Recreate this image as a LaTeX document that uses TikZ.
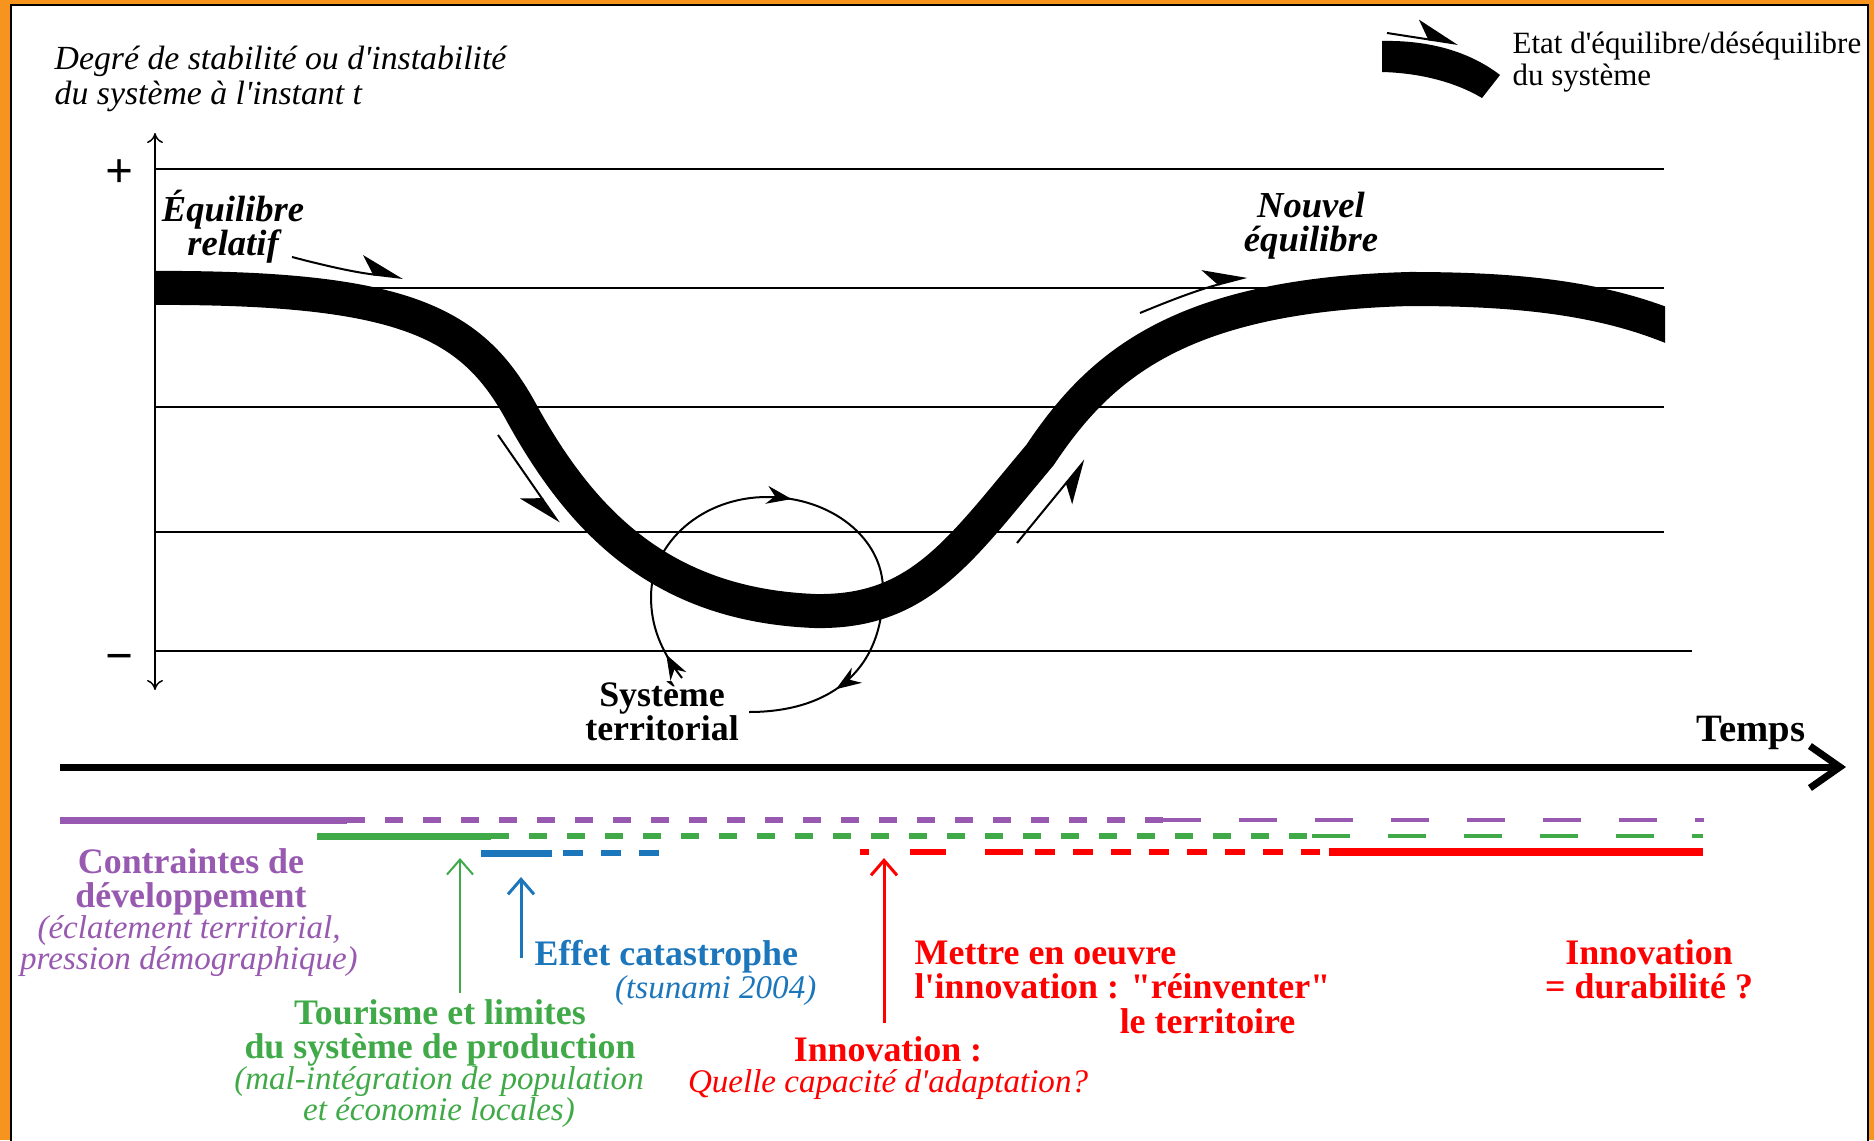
\documentclass[tikz,border=0pt]{standalone}
\usepackage{fontspec}
\setmainfont{Liberation Serif}[Ligatures=TeXOff]
\usepackage{xcolor}
\usepackage{tikz}
\usetikzlibrary{arrows.meta}
\usetikzlibrary{decorations.markings}
\definecolor{cadre}{RGB}{247,148,30}
\definecolor{cviolet}{RGB}{152,89,176}
\definecolor{cvert}{RGB}{64,170,72}
\definecolor{cbleu}{RGB}{28,118,188}
\definecolor{crouge}{RGB}{255,0,0}

\begin{document}
\begin{tikzpicture}[x=0.01cm, y=-0.01cm,
	grille/.style={line width=0.15mm},
	courbe/.style={line width=3.4mm},
	harpon/.style={line width=0.2mm, -{Stealth[harpoon, length=4mm, width=3.6mm, inset=1.2mm]}},
	harponb/.style={line width=0.2mm, -{Stealth[harpoon, swap, length=4mm, width=3.6mm, inset=1.2mm]}},
	fleche/.style={-{Straight Barb[length=1.5mm, width=2.6mm]}},
	titre/.style={font=\fontsize{9.6}{10}\selectfont\itshape, align=left, anchor=west, inner sep=0pt},
	legende/.style={font=\fontsize{8.8}{9.2}\selectfont, align=left, anchor=west, inner sep=0pt},
	etiq/.style={font=\fontsize{10.2}{9.7}\selectfont\bfseries, align=center, inner sep=0pt},
	etiqit/.style={font=\fontsize{10.4}{9.7}\selectfont\bfseries\itshape, align=center, inner sep=0pt},
	sousetiq/.style={font=\fontsize{9.4}{8.9}\selectfont\itshape, align=center, inner sep=0pt}]
	\useasboundingbox (0,0) rectangle (1874,1140);
	\fill[cadre] (0,0) rectangle (1874,1140);
	\fill[white] (11,5) rectangle (1868,1140);
	\draw[line width=0.15mm] (11,1141) -- (11,5) -- (1868,5) -- (1868,1141);
	
	\node[titre] (titre) at (54,79) {Degré de stabilité ou d'instabilité\\du système à l'instant t};
	\fill (1382,41) .. controls (1430,40) and (1470,52) .. (1500,75) -- (1482,98) .. controls (1455,82) and (1420,73) .. (1382,72) -- cycle;
	\draw[harpon] (1387,33) -- (1458,44);
	\node[legende] (legende) at (1512,62) {Etat d'équilibre/déséquilibre\\du système};
	
	\draw[line width=0.15mm, {To[length=1mm, width=1.6mm]}-{To[length=1mm, width=1.6mm]}] (155,690) -- (155,133);
	\node[font=\fontsize{14}{14}\selectfont\bfseries, inner sep=0pt] (plus) at (120,174) {+};
	\node[font=\fontsize{14}{14}\selectfont\bfseries, inner sep=0pt] (moins) at (120,663) {−};
	\foreach \y in {169,288,407,532}
		\draw[grille] (155,\y) -- (1664,\y);
	\draw[grille] (155,651) -- (1692,651);
	
	\begin{scope}
		\clip (155,100) rectangle (1665,700);
		\draw[courbe] (140,288) .. controls (400,286) and (470,320) .. (520,410)
			.. controls (580,520) and (660,605) .. (815,611)
			.. controls (920,613) and (960,550) .. (1040,455)
			.. controls (1100,365) and (1180,295) .. (1410,289)
			.. controls (1530,289) and (1620,300) .. (1700,340);
	\end{scope}
	
	\draw[harpon] (292,257) to[bend right=4] (403,278);
	\draw[harponb] (498,435) -- (559,523);
	\draw[harponb] (1017,543) -- (1085,460);
	\draw[harpon] (1140,313) to[bend left=4] (1247,277);
	
	\node[etiqit] (equilibre) at (233,227) {Équilibre\\relatif};
	\node[etiqit] (nouvel) at (1311,226) {Nouvel\\équilibre};
	
	\node[etiq] (systeme) at (662,711) {Système\\territorial};
	\draw[line width=0.2mm, postaction={decorate}, decoration={markings,
		mark=at position 0.045 with {\arrow{Stealth[length=2.5mm, width=1.8mm]}},
		mark=at position 0.45 with {\arrow{Stealth[length=2.5mm, width=1.8mm]}},
		mark=at position 0.855 with {\arrow{Stealth[length=2.5mm, width=1.8mm]}}}]
		(682,678) .. controls (660,650) and (651,625) .. (651,597)
		.. controls (651,542) and (703,497) .. (767,497)
		.. controls (831,497) and (883,538) .. (883,590)
		.. controls (883,675) and (825,712) .. (749,712);
	
	\node[font=\fontsize{11}{11}\selectfont\bfseries, inner sep=0pt] (temps) at (1751,733) {Temps};
	\draw[line width=0.7mm, -{Straight Barb[length=3mm, width=4.2mm]}] (60,767) -- (1846,767);
	
	\draw[cviolet, line width=0.7mm] (60,820) -- (347,820);
	\draw[cviolet, line width=0.55mm, dash pattern=on 1.8mm off 2mm] (347,820) -- (1163,820);
	\draw[cviolet, line width=0.4mm, dash pattern=on 3.8mm off 3.8mm] (1163,820) -- (1704,820);
	\draw[cvert, line width=0.7mm] (317,836) -- (491,836);
	\draw[cvert, line width=0.55mm, dash pattern=on 1.8mm off 2mm] (491,836) -- (1312,836);
	\draw[cvert, line width=0.4mm, dash pattern=on 3.8mm off 3.8mm] (1312,836) -- (1703,836);
	\draw[cbleu, line width=0.7mm] (481,853) -- (552,853);
	\draw[cbleu, line width=0.55mm, dash pattern=on 2mm off 1.8mm] (563,853) -- (659,853);
	\draw[crouge, line width=0.55mm] (860,852) -- (869,852);
	\draw[crouge, line width=0.55mm] (910,852) -- (946,852);
	\draw[crouge, line width=0.55mm] (985,852) -- (1023,852);
	\draw[crouge, line width=0.6mm, dash pattern=on 2mm off 1.8mm] (1035,852) -- (1320,852);
	\draw[crouge, line width=0.8mm] (1329,852) -- (1703,852);
	
	\coordinate (piedvert) at (460,993);
	\coordinate (pointevert) at (460,858);
	\coordinate (piedbleu) at (521,958);
	\coordinate (pointebleu) at (521,877);
	\coordinate (piedrouge) at (884,1023);
	\coordinate (pointerouge) at (884,858);
	\draw[fleche, cvert, line width=0.2mm] (piedvert) -- (pointevert);
	\draw[fleche, cbleu, line width=0.3mm] (piedbleu) -- (pointebleu);
	\draw[fleche, crouge, line width=0.3mm] (piedrouge) -- (pointerouge);
	
	\node[etiq, text=cviolet] (contraintes) at (191,882) {Contraintes de\\développement};
	\node[sousetiq, text=cviolet] (eclatement) at (189,946) {(éclatement territorial,\\pression démographique)};
	\node[etiq, text=cvert] (tourisme) at (440,1033) {Tourisme et limites\\du système de production};
	\node[sousetiq, text=cvert] (integration) at (439,1097) {(mal-intégration de population\\et économie locales)};
	\node[etiq, text=cbleu, anchor=west] (catastrophe) at (534,957) {Effet catastrophe};
	\node[sousetiq, text=cbleu, anchor=east] (tsunami) at (817,991) {(tsunami 2004)};
	\node[etiq, text=crouge] (innovation) at (888,1049) {Innovation :};
	\node[sousetiq, text=crouge] (capacite) at (888,1085) {Quelle capacité d'adaptation?};
	\node[etiq, text=crouge, align=left, anchor=west] (oeuvre) at (914,970) {Mettre en oeuvre\\l'innovation : "réinventer"};
	\node[etiq, text=crouge, anchor=east] (territoire) at (1296,1021) {le territoire};
	\node[etiq, text=crouge] (durabilite) at (1649,969) {Innovation\\= durabilité ?};
	
\end{tikzpicture}
\end{document}
